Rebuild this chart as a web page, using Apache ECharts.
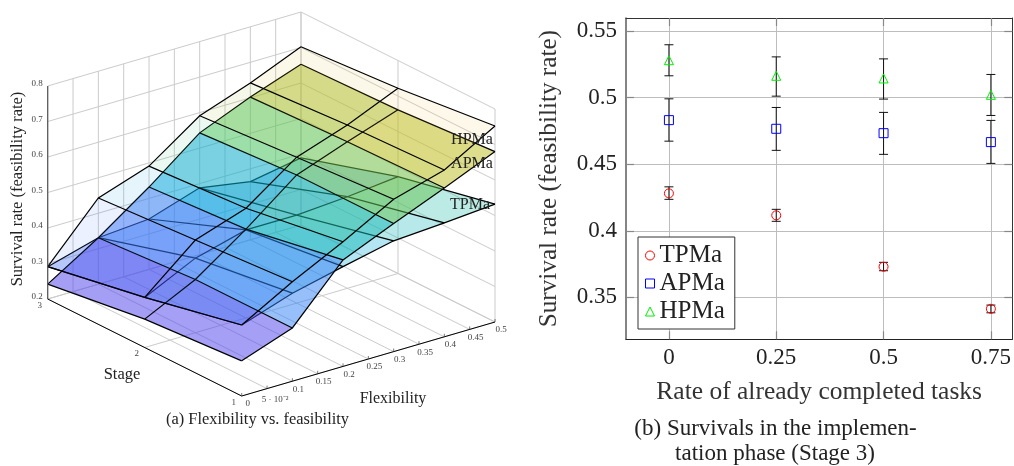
<!DOCTYPE html>
<html>
<head>
<meta charset="utf-8">
<style>html,body{margin:0;padding:0;background:#fff}#main{width:1014px;height:466px}</style>
<script src="https://cdn.jsdelivr.net/npm/echarts@6/dist/echarts.min.js"></script>
</head>
<body>
<div id="main"></div>
<script>
// left plot: survival rate per stage (rows: stage 1,2,3) over flexibility
var flexValues = [0, 0.1, 0.2, 0.3, 0.4, 0.5];
var stageValues = [1, 2, 3];
var tpmaSurface = [
  [0.4, 0.448, 0.481, 0.512, 0.521, 0.532],
  [0.341, 0.41, 0.448, 0.448, 0.458, 0.473],
  [0.291, 0.331, 0.342, 0.388, 0.364, 0.389]
];
var apmaSurface = [
  [0.299, 0.35, 0.5, 0.561, 0.619, 0.68],
  [0.28, 0.35, 0.45, 0.561, 0.613, 0.661],
  [0.242, 0.331, 0.432, 0.543, 0.602, 0.653]
];
var hpmaSurface = [
  [0.4, 0.48, 0.551, 0.629, 0.67, 0.752],
  [0.341, 0.461, 0.509, 0.611, 0.66, 0.722],
  [0.291, 0.443, 0.491, 0.591, 0.642, 0.702]
];
var flexTicks = [0, 0.05, 0.1, 0.15, 0.2, 0.25, 0.3, 0.35, 0.4, 0.45, 0.5];
var flexTickLabels = ['0', '5 · 10⁻²', '0.1', '0.15', '0.2', '0.25', '0.3', '0.35', '0.4', '0.45', '0.5'];
var zTicks = [0.2, 0.3, 0.4, 0.5, 0.6, 0.7, 0.8];

// right plot: stage 3 survivals with error bars
var taskRates = [0, 0.25, 0.5, 0.75];
var tpmaMean = [0.4281, 0.4116, 0.373, 0.3414];
var tpmaLow = [0.4236, 0.4071, 0.37, 0.3384];
var tpmaHigh = [0.433, 0.4161, 0.3763, 0.3442];
var apmaMean = [0.4831, 0.4766, 0.4733, 0.4666];
var apmaLow = [0.4673, 0.4604, 0.4574, 0.4506];
var apmaHigh = [0.4991, 0.4926, 0.4889, 0.4829];
var hpmaMean = [0.5281, 0.5164, 0.5144, 0.5021];
var hpmaLow = [0.5164, 0.5011, 0.4989, 0.4866];
var hpmaHigh = [0.5397, 0.5306, 0.5291, 0.5174];
var rightYTicks = [0.35, 0.4, 0.45, 0.5, 0.55];

var fontName = '"Liberation Serif", serif';
var linearMap = echarts.number.linearMap;

// axonometric box of the left plot
function project(f, s, z) {
  var fx = linearMap(f, [0, 0.5], [0, 253.3]), fy = linearMap(f, [0, 0.5], [0, 74]);
  var sx = linearMap(s, [1, 3], [0, 194]), sy = linearMap(s, [1, 3], [0, 97]);
  var zy = linearMap(z, [0.2, 0.8], [0, 213]);
  return [241.7 + fx - sx, 396 - fy - sy - zy];
}

var colorStops = [
  [0.2, 70, 50, 235], [0.32, 75, 65, 235], [0.39, 61, 117, 247], [0.45, 25, 145, 240],
  [0.5, 0, 170, 215], [0.53, 35, 192, 158], [0.58, 81, 197, 93], [0.6, 120, 190, 60],
  [0.65, 195, 190, 25], [0.72, 255, 185, 60], [0.8, 255, 170, 50]
];
function facetColor(z, alpha) {
  for (var i = 1; i < colorStops.length; i++) {
    if (z <= colorStops[i][0]) {
      var a = colorStops[i - 1], b = colorStops[i];
      var c = [1, 2, 3].map(function (k) { return Math.round(linearMap(z, [a[0], b[0]], [a[k], b[k]])); });
      return 'rgba(' + c.join(',') + ',' + alpha + ')';
    }
  }
  return 'rgba(255,170,50,' + alpha + ')';
}

function gridLine(a, b, color) {
  return {
    type: 'line',
    shape: { x1: a[0], y1: a[1], x2: b[0], y2: b[1] },
    style: { stroke: color, lineWidth: 1, fill: null }
  };
}

function boxSeries() {
  return {
    type: 'custom', coordinateSystem: 'none', silent: true, data: [0],
    renderItem: function () {
      var els = [], gray = '#cbcbcb';
      flexTicks.forEach(function (f) {
        els.push(gridLine(project(f, 3, 0.2), project(f, 3, 0.8), gray));
        els.push(gridLine(project(f, 1, 0.2), project(f, 3, 0.2), gray));
      });
      zTicks.forEach(function (z) {
        els.push(gridLine(project(0, 3, z), project(0.5, 3, z), gray));
        els.push(gridLine(project(0.5, 3, z), project(0.5, 1, z), gray));
      });
      stageValues.forEach(function (s) {
        els.push(gridLine(project(0.5, s, 0.2), project(0.5, s, 0.8), gray));
        els.push(gridLine(project(0, s, 0.2), project(0.5, s, 0.2), gray));
      });
      return { type: 'group', children: els };
    }
  };
}

// shift: TPMa reads a little greener than the others at the same height
function facetSeries(rows, alpha, shift) {
  var cells = [];
  rows.slice(1).forEach(function (row, j) {
    row.slice(1).forEach(function (v, i) { cells.push([i, j]); });
  });
  return {
    type: 'custom', coordinateSystem: 'none', silent: true, data: cells,
    renderItem: function (params, api) {
      var i = api.value(0), j = api.value(1);
      var corners = [[i, j], [i + 1, j], [i + 1, j + 1], [i, j + 1]];
      var sum = 0;
      var pts = corners.map(function (c) {
        sum += rows[c[1]][c[0]];
        return project(flexValues[c[0]], stageValues[c[1]], rows[c[1]][c[0]]);
      });
      return { type: 'polygon', shape: { points: pts }, style: { fill: facetColor(sum / 4 + shift, alpha), stroke: null } };
    }
  };
}

function meshSeries(rows) {
  return {
    type: 'custom', coordinateSystem: 'none', silent: true, data: [0],
    renderItem: function () {
      var els = [];
      function poly(pts) {
        els.push({ type: 'polyline', shape: { points: pts }, style: { stroke: '#000', lineWidth: 1.2, fill: null } });
      }
      rows.forEach(function (row, j) {
        poly(row.map(function (z, i) { return project(flexValues[i], stageValues[j], z); }));
      });
      flexValues.forEach(function (f, i) {
        poly(rows.map(function (row, j) { return project(f, stageValues[j], row[i]); }));
      });
      return { type: 'group', children: els };
    }
  };
}

function axisSeries() {
  return {
    type: 'custom', coordinateSystem: 'none', silent: true, data: [0], z: 3,
    renderItem: function () {
      var els = [];
      function label(p, dx, dy, text, align) {
        els.push({
          type: 'text', x: p[0] + dx, y: p[1] + dy,
          style: { text: text, fill: '#444', font: '9px ' + fontName, align: align || 'center', verticalAlign: 'middle' }
        });
      }
      els.push({ type: 'line', shape: { x1: 47.7, y1: project(0, 3, 0.8)[1], x2: 47.7, y2: project(0, 3, 0.2)[1] }, style: { stroke: '#555', lineWidth: 1.2 } });
      els.push(gridLine(project(0, 3, 0.2), project(0, 1, 0.2), '#000'));
      els.push(gridLine(project(0, 1, 0.2), project(0.5, 1, 0.2), '#000'));
      zTicks.forEach(function (z) { label(project(0, 3, z), -5, -2, String(z), 'right'); });
      flexTicks.forEach(function (f, i) {
        var p = project(f, 1, 0.2);
        label(p, i === 1 ? 8 : 6, i === 1 ? 11 : 8, flexTickLabels[i]);
        els.push({ type: 'line', shape: { x1: p[0], y1: p[1], x2: p[0], y2: p[1] - 3 }, style: { stroke: '#444', lineWidth: 0.7 } });
      });
      stageValues.forEach(function (s) { label(project(0, s, 0.2), -8, 6.5, String(s)); });
      return { type: 'group', children: els };
    }
  };
}

function errorSeries(low, high) {
  return {
    type: 'custom', xAxisIndex: 0, yAxisIndex: 0, silent: true, z: 2,
    data: taskRates.map(function (r, i) { return [r, low[i], high[i]]; }),
    renderItem: function (params, api) {
      var a = api.coord([api.value(0), api.value(1)]), b = api.coord([api.value(0), api.value(2)]);
      var st = { stroke: '#111', lineWidth: 1 };
      return {
        type: 'group', children: [
          { type: 'line', shape: { x1: a[0], y1: a[1], x2: b[0], y2: b[1] }, style: st },
          { type: 'line', shape: { x1: a[0] - 4.5, y1: a[1], x2: a[0] + 4.5, y2: a[1] }, style: st },
          { type: 'line', shape: { x1: b[0] - 4.5, y1: b[1], x2: b[0] + 4.5, y2: b[1] }, style: st }
        ]
      };
    }
  };
}

function markerSeries(name, means, symbol, size, color) {
  return {
    name: name, type: 'scatter', xAxisIndex: 0, yAxisIndex: 0, z: 3, symbol: symbol, symbolSize: size,
    itemStyle: { color: 'rgba(255,255,255,0)', borderColor: color, borderWidth: 1, opacity: 1 },
    data: taskRates.map(function (r, i) { return [r, means[i]]; })
  };
}

function caption(text, x, y, size, align) {
  return { type: 'text', x: x, y: y, z: 10, silent: true,
    style: { text: text, fill: '#222', font: size + 'px ' + fontName, align: align || 'center', verticalAlign: 'middle' } };
}

var frameTick = { show: true, inside: true, length: 8, lineStyle: { color: '#888', width: 1.2 } };

var myChart = echarts.init(document.getElementById('main'), null, { renderer: 'canvas' });
var option = {
  animation: false,
  backgroundColor: '#fff',
  textStyle: { fontFamily: fontName },
  grid: { left: 626, top: 18, width: 387.5, height: 321.3 },
  legend: {
    left: 638, top: 237, orient: 'vertical', padding: [6, 10, 5, 7], itemGap: 3,
    itemWidth: 9, itemHeight: 9, backgroundColor: '#fff', borderColor: '#333', borderWidth: 1, borderRadius: 0,
    itemStyle: { borderWidth: 1 },
    textStyle: { fontSize: 25, color: '#222', fontFamily: fontName },
    data: ['TPMa', 'APMa', 'HPMa'], selectedMode: false
  },
  xAxis: [{
    type: 'value', min: -0.1, max: 0.8, position: 'bottom',
    name: 'Rate of already completed tasks', nameLocation: 'middle', nameGap: 40,
    nameTextStyle: { fontSize: 25.5, color: '#333', fontFamily: fontName },
    axisLine: { show: true, onZero: false, lineStyle: { color: '#222' } },
    axisTick: Object.assign({ customValues: taskRates }, frameTick),
    axisLabel: { customValues: taskRates, fontSize: 23, color: '#222', margin: 7, fontFamily: fontName },
    splitLine: { show: true, lineStyle: { color: '#bdbdbd', width: 1 } }
  }, {
    type: 'value', min: -0.1, max: 0.8, position: 'top',
    axisLine: { show: true, onZero: false, lineStyle: { color: '#333' } },
    axisTick: Object.assign({ customValues: taskRates }, frameTick),
    axisLabel: { show: false }, splitLine: { show: false }
  }],
  yAxis: [{
    type: 'value', min: 0.3185, max: 0.5598, position: 'left',
    name: 'Survival rate (feasibility rate)', nameLocation: 'middle', nameGap: 64,
    nameTextStyle: { fontSize: 25.2, color: '#333', fontFamily: fontName },
    axisLine: { show: true, onZero: false, lineStyle: { color: '#666', width: 1.6 } },
    axisTick: Object.assign({ customValues: rightYTicks }, frameTick),
    axisLabel: { customValues: rightYTicks, fontSize: 23, color: '#222', margin: 9, fontFamily: fontName },
    splitLine: { show: true, lineStyle: { color: '#bdbdbd', width: 1 } }
  }, {
    type: 'value', min: 0.3185, max: 0.5598, position: 'right',
    axisLine: { show: true, onZero: false, lineStyle: { color: '#333' } },
    axisTick: Object.assign({ customValues: rightYTicks }, frameTick),
    axisLabel: { show: false }, splitLine: { show: false }
  }],
  series: [
    boxSeries(),
    facetSeries(tpmaSurface, 0.3, 0.03), meshSeries(tpmaSurface),
    facetSeries(apmaSurface, 0.5, 0), meshSeries(apmaSurface),
    facetSeries(hpmaSurface, 0.1, 0), meshSeries(hpmaSurface),
    axisSeries(),
    errorSeries(tpmaLow, tpmaHigh), errorSeries(apmaLow, apmaHigh), errorSeries(hpmaLow, hpmaHigh),
    markerSeries('TPMa', tpmaMean, 'circle', 9, '#ff0000'),
    markerSeries('APMa', apmaMean, 'rect', 9, '#0000ff'),
    markerSeries('HPMa', hpmaMean, 'triangle', 9, '#00ee00')
  ],
  graphic: [
    caption('HPMa', 472, 140, 16),
    caption('APMa', 472, 164, 16),
    caption('TPMa', 470, 205, 16),
    caption('Stage', 122, 375, 16.5),
    caption('Flexibility', 393, 399, 16),
    { type: 'text', x: 18, y: 189, rotation: Math.PI / 2, z: 10, silent: true,
      style: { text: 'Survival rate (feasibility rate)', fill: '#222', font: '16.5px ' + fontName, align: 'center', verticalAlign: 'middle' } },
    caption('(a) Flexibility vs. feasibility', 257.5, 420, 16.4),
    caption('(b) Survivals in the implemen-', 775.5, 429, 23),
    caption('tation phase (Stage 3)', 775, 454, 23)
  ]
};
myChart.setOption(option);
</script>
</body>
</html>
